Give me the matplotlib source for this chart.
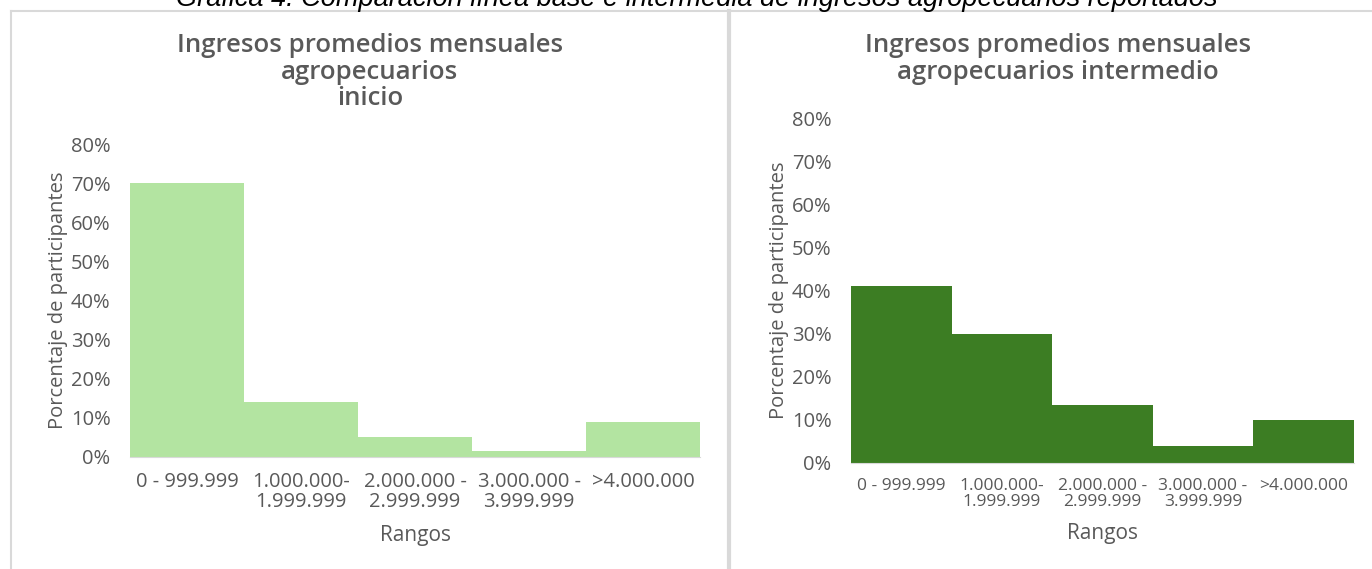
import matplotlib
matplotlib.use("Agg")
import matplotlib.pyplot as plt
from matplotlib.ticker import PercentFormatter
from matplotlib.lines import Line2D

# data (percent of participants)
rangos = ["0 - 999.999", "1.000.000-\n1.999.999", "2.000.000 -\n2.999.999",
          "3.000.000 -\n3.999.999", ">4.000.000"]
inicio = [70, 14, 5, 1.5, 9]
intermedio = [41, 30, 13.5, 4, 10]

caption = "Gráfica 4. Comparación línea base e intermedia de ingresos agropecuarios reportados"
title_left = "Ingresos promedios mensuales\nagropecuarios\ninicio"
title_right = "Ingresos promedios mensuales\nagropecuarios intermedio"

plt.rcParams['font.family'] = ['Open Sans', 'DejaVu Sans']
gray = "#595959"
W, H = 1372, 569

fig = plt.figure(figsize=(W / 100, H / 100), dpi=100)


def px(x0, y_top, w, h):
    # pixel box -> figure fraction
    return [x0 / W, (H - y_top - h) / H, w / W, h / H]


def draw(ax, values, color, xfs, xpad, lpad):
    x = range(len(values))
    ax.bar(x, values, width=1.0, color=color)
    ax.set_ylim(0, 80)
    ax.set_xlim(-0.5, len(values) - 0.5)
    ax.set_yticks(range(0, 81, 10))
    ax.yaxis.set_major_formatter(PercentFormatter(xmax=100, decimals=0))
    ax.set_xticks(list(x))
    ax.set_xticklabels(rangos, fontsize=xfs, color=gray, linespacing=1.0)
    ax.tick_params(axis="y", labelsize=14.5, labelcolor=gray, length=0, pad=14)
    ax.tick_params(axis="x", length=0, pad=xpad)
    for s in ["top", "right", "left"]:
        ax.spines[s].set_visible(False)
    ax.spines["bottom"].set_color("#d9d9d9")
    ax.set_ylabel("Porcentaje de participantes", fontsize=14.5, color=gray, labelpad=2)
    ax.set_xlabel("Rangos", fontsize=15, color=gray, labelpad=lpad)


ax1 = fig.add_axes(px(130, 144, 570, 313))
draw(ax1, inicio, "#b3e4a1", 14.5, 11, 9)
ax2 = fig.add_axes(px(851, 118, 503, 345))
draw(ax2, intermedio, "#3c7d23", 12.5, 11, 9)

fig.text(370 / W, 1 - 33 / H, title_left, ha="center", va="top", fontsize=18.5,
         fontweight="semibold", color=gray, linespacing=1.09)
fig.text(1058 / W, 1 - 33 / H, title_right, ha="center", va="top", fontsize=18.5,
         fontweight="semibold", color=gray, linespacing=1.09)

# caption, cut at the top edge
fig.text(697 / W, 1 - 6 / H, caption, ha="center", va="baseline", fontsize=19.5,
         style="italic", family=["Liberation Sans", "DejaVu Sans"], color="black")

# frame lines
fig.add_artist(Line2D([11 / W, 1], [1 - 11 / H] * 2, color="#d9d9d9", lw=1.5))
fig.add_artist(Line2D([11 / W] * 2, [0, 1 - 11 / H], color="#d9d9d9", lw=1.5))
fig.add_artist(Line2D([729 / W] * 2, [0, 1 - 11 / H], color="#d9d9d9", lw=3))

fig.savefig("out.png", dpi=100)
